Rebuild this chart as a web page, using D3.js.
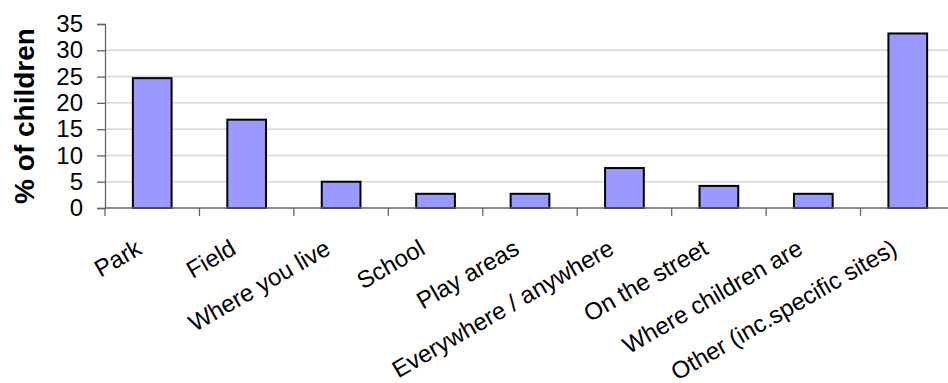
<!DOCTYPE html>
<html><head><meta charset="utf-8">
<script src="https://cdn.jsdelivr.net/npm/d3@7"></script>
<style>
html,body{margin:0;padding:0;background:#fff;}
svg{display:block;}
text{font-family:"Liberation Sans",Arial,sans-serif;}
</style></head>
<body>
<svg id="chart" width="948" height="383"></svg>
<script>
const categories = ["Park","Field","Where you live","School","Play areas","Everywhere / anywhere","On the street","Where children are","Other (inc.specific sites)"];
const values = [24.7, 16.8, 5.0, 2.7, 2.7, 7.6, 4.2, 2.7, 33.2];
const yTicks = [0,5,10,15,20,25,30,35];
const yTitle = "% of children";

(function () {
const svg = d3.select("#chart");
const mLeft = 105, mRight = 955, mTop = 24, mBottom = 208;

const x = d3.scaleBand().domain(categories).range([mLeft, mRight]).paddingInner(0.59).paddingOuter(0.295);
const y = d3.scaleLinear().domain([0, 35]).range([mBottom, mTop]);
const step = x.step();

// gridlines
svg.append("g").selectAll("line").data(yTicks.filter(t => t > 0 && t < 35)).join("line")
  .attr("x1", mLeft).attr("x2", mRight)
  .attr("y1", d => y(d)).attr("y2", d => y(d))
  .attr("stroke", "#d6d6d6").attr("stroke-width", 1.5);

// bars
svg.append("g").selectAll("rect").data(categories).join("rect")
  .attr("x", d => x(d)).attr("width", x.bandwidth())
  .attr("y", (d, i) => y(values[i])).attr("height", (d, i) => y(0) - y(values[i]))
  .attr("fill", "#9999ff").attr("stroke", "#000").attr("stroke-width", 2);

// y axis
const yAxis = svg.append("g").attr("transform", `translate(${mLeft},0)`)
  .call(d3.axisLeft(y).tickValues(yTicks).tickSize(8).tickPadding(14));
yAxis.select(".domain").attr("stroke", "#666").attr("stroke-width", 1.3);
yAxis.selectAll(".tick line").attr("stroke", "#666").attr("stroke-width", 1.3);
yAxis.selectAll(".tick text").attr("font-size", 24).attr("fill", "#000")
  .attr("font-family", "'Liberation Sans', Arial, sans-serif");

// x axis: ticks at category boundaries
const boundaries = d3.range(categories.length + 1).map(i => mLeft + i * step);
const xg = svg.append("g");
xg.append("line").attr("x1", mLeft).attr("x2", mRight).attr("y1", mBottom).attr("y2", mBottom)
  .attr("stroke", "#666").attr("stroke-width", 1.3);
xg.selectAll("line.tk").data(boundaries).join("line").attr("class", "tk")
  .attr("x1", d => d).attr("x2", d => d).attr("y1", mBottom).attr("y2", mBottom + 8)
  .attr("stroke", "#666").attr("stroke-width", 1.3);

// x labels
svg.append("g").selectAll("text").data(categories).join("text")
  .attr("transform", d => `translate(${x(d) + x.bandwidth() / 2 - 9},${253}) rotate(-30)`)
  .attr("text-anchor", "end").attr("font-size", 24).attr("fill", "#000")
  .text(d => d);

// y title
svg.append("text").attr("transform", `translate(34,116) rotate(-90)`)
  .attr("text-anchor", "middle").attr("font-size", 28).attr("font-weight", "bold")
  .attr("fill", "#000").text(yTitle);
})();
</script>
</body></html>
